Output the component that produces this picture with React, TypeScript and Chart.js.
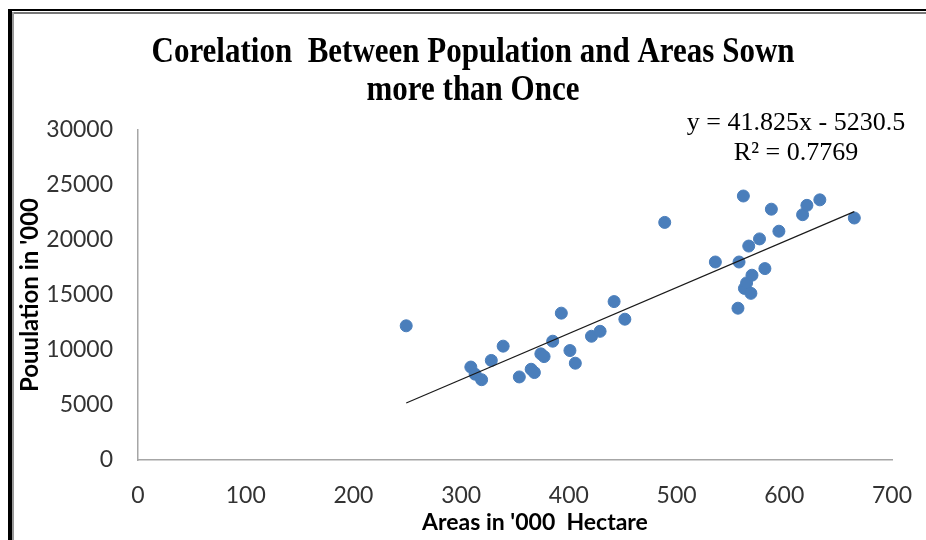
import React, { useEffect, useRef } from 'react';
import { Chart, registerables } from 'chart.js';

Chart.register(...registerables);

// Data
const areaValues = [249, 309, 313, 319, 328, 339, 354, 365, 368, 374, 377, 385, 393, 401, 406, 421, 429, 442, 452, 489, 536, 557, 558, 562, 563, 565, 567, 569, 570, 577, 582, 588, 595, 617, 621, 633, 665];
const populationValues = [12200, 8450, 7800, 7300, 9050, 10350, 7550, 8250, 7950, 9650, 9400, 10800, 13350, 9950, 8800, 11250, 11700, 14400, 12800, 21600, 18000, 13800, 18000, 24000, 15600, 16100, 19450, 15150, 16800, 20100, 17400, 22800, 20800, 22300, 23150, 23650, 22000];
const trendAreas = [249, 665];
const trendPopulation = [5184, 22583];

const titleLines = ['Corelation  Between Population and Areas Sown', 'more than Once'];
const equationLines = ['y = 41.825x - 5230.5', 'R\u00B2 = 0.7769'];
const xAxisTitle = "Areas in '000  Hectare";
const yAxisTitle = "Pouulation in '000";

const xMin = 0, xMax = 700, xStep = 100;
const yMin = 0, yMax = 30000, yStep = 5000;

const textPlugin = {
  id: 'textPlugin',
  afterDraw(chart: any) {
    const ctx = chart.ctx;
    const area = chart.chartArea;
    ctx.save();
    ctx.fillStyle = '#000';
    ctx.textAlign = 'center';
    ctx.textBaseline = 'middle';
    // Title (slightly tall, condensed look)
    ctx.font = 'bold 31px "Liberation Serif", "Times New Roman", serif';
    ctx.save();
    ctx.translate(473, 53);
    ctx.scale(1, 1.14);
    ctx.fillText(titleLines[0], 0, 0);
    ctx.restore();
    ctx.save();
    ctx.translate(473, 91);
    ctx.scale(1, 1.14);
    ctx.fillText(titleLines[1], 0, 0);
    ctx.restore();
    // Equation
    ctx.font = '26px "Liberation Serif", "Times New Roman", serif';
    ctx.fillText(equationLines[0], 796, 123);
    ctx.fillText(equationLines[1], 796, 153);
    // Axis titles
    ctx.font = 'bold 23px Lato, "Open Sans", sans-serif';
    ctx.fillText(xAxisTitle, 535, 523);
    ctx.translate(30, (area.top + area.bottom) / 2);
    ctx.rotate(-Math.PI / 2);
    ctx.font = 'bold 24px Lato, "Open Sans", sans-serif';
    ctx.fillText(yAxisTitle, 0, 0);
    ctx.restore();
  },
};

export default function App() {
  const ref = useRef<HTMLCanvasElement | null>(null);

  useEffect(() => {
    if (!ref.current) return;
    const scatterData = areaValues.map((x, i) => ({ x, y: populationValues[i] }));
    const trendData = trendAreas.map((x, i) => ({ x, y: trendPopulation[i] }));
    const tickFont = { family: 'Lato, "Open Sans", sans-serif', size: 23 };
    const chart = new Chart(ref.current, {
      type: 'scatter',
      data: {
        datasets: [
          {
            type: 'line',
            data: trendData,
            borderColor: '#1a1a1a',
            borderWidth: 1.2,
            pointRadius: 0,
            fill: false,
            order: 0,
          } as any,
          {
            data: scatterData,
            backgroundColor: '#4A7EBB',
            borderColor: '#4A7EBB',
            borderWidth: 1,
            pointRadius: 6,
            order: 1,
          },
        ],
      },
      options: {
        animation: false,
        responsive: false,
        layout: { padding: { left: 14, right: 34, top: 130, bottom: 0 } },
        plugins: {
          legend: { display: false },
          tooltip: { enabled: false },
          title: { display: false },
        },
        scales: {
          x: {
            type: 'linear',
            min: xMin,
            max: xMax,
            ticks: {
              stepSize: xStep,
              padding: 22,
              font: tickFont,
              color: '#333',
              callback: (v: any) => String(v),
            },
            grid: { display: false, drawTicks: false },
            border: { display: true, color: '#a6a6a6', width: 1.5 },
            afterFit: (s: any) => {
              s.height = 80;
              s.paddingLeft = 0;
              s.paddingRight = 0;
            },
          },
          y: {
            type: 'linear',
            min: yMin,
            max: yMax,
            ticks: {
              stepSize: yStep,
              padding: 25,
              font: tickFont,
              color: '#333',
              callback: (v: any) => String(v),
            },
            grid: { display: false, drawTicks: false },
            border: { display: true, color: '#a6a6a6', width: 1.5 },
            afterFit: (s: any) => {
              s.width = 124;
              s.paddingTop = 0;
              s.paddingBottom = 0;
            },
          },
        },
      },
      plugins: [textPlugin],
    });
    return () => chart.destroy();
  }, []);

  return (
    <div style={{ position: 'fixed', left: 0, top: 0, width: 926, height: 540, background: '#fff', overflow: 'hidden' }}>
      <canvas ref={ref} width={926} height={540} style={{ position: 'absolute', left: 0, top: 0, width: 926, height: 540 }} />
      <div style={{ position: 'absolute', left: 8, top: 9, width: 918, height: 2, background: '#000' }} />
      <div style={{ position: 'absolute', left: 12, top: 12, width: 914, height: 2, background: '#777' }} />
      <div style={{ position: 'absolute', left: 8, top: 9, width: 4, height: 531, background: '#000' }} />
      <div style={{ position: 'absolute', left: 12, top: 12, width: 2, height: 528, background: '#999' }} />
    </div>
  );
}
